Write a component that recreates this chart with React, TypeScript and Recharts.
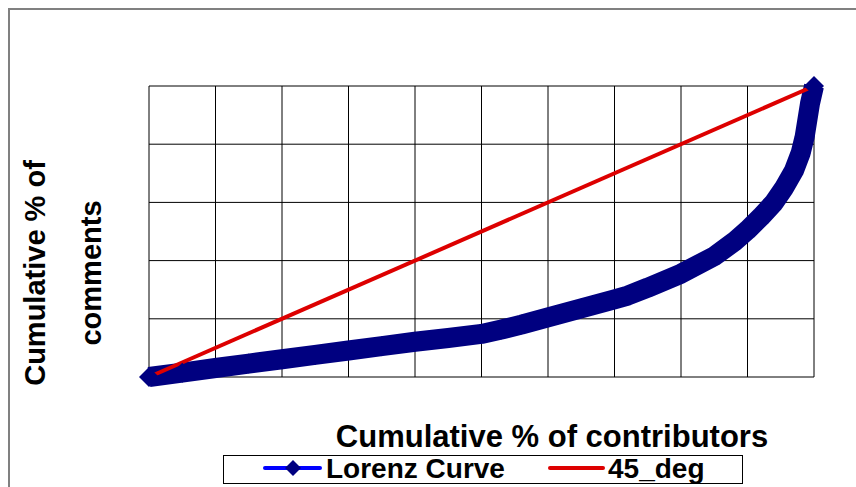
import { LineChart, Line, XAxis, YAxis, CartesianGrid } from "recharts";

// Canvas
const WIDTH = 856;
const HEIGHT = 487;
const FONT = '"Liberation Sans", Arial, sans-serif';

// Axes (no labels shown, only gridlines)
const X_TICKS = [0, 0.1, 0.2, 0.3, 0.4, 0.5, 0.6, 0.7, 0.8, 0.9, 1];
const Y_TICKS = [0, 0.2, 0.4, 0.6, 0.8, 1];

// Lorenz curve (share of contributors -> share of comments)
const LORENZ_X = [
  0, 0.05, 0.1, 0.15, 0.2, 0.25, 0.3, 0.35, 0.4, 0.45, 0.5, 0.53, 0.56, 0.6, 0.65,
  0.7, 0.72, 0.75, 0.8, 0.85, 0.88, 0.9, 0.92, 0.94, 0.955, 0.97, 0.98, 0.986, 0.994, 1,
];
const LORENZ_Y = [
  0, 0.015, 0.031, 0.046, 0.061, 0.076, 0.091, 0.106, 0.121, 0.134, 0.148, 0.163, 0.18, 0.205, 0.236,
  0.267, 0.28, 0.307, 0.355, 0.415, 0.465, 0.505, 0.55, 0.6, 0.65, 0.71, 0.77, 0.826, 0.94, 1,
];

// Line of equality
const DIAGONAL_X = [0, 1];
const DIAGONAL_Y = [0, 1];

const SERIES_NAMES = ["Lorenz Curve", "45_deg"];
const X_TITLE = "Cumulative % of contributors";
const Y_TITLE_LINES = ["Cumulative % of", "comments"];

const COLORS = {
  marker: "#000080",
  lorenzLine: "#0000ff",
  diagonal: "#dd0000",
  grid: "#000000",
  frame: "#808080",
} as const;

const lorenzData = LORENZ_X.map((x, i) => ({ x, y: LORENZ_Y[i] }));
const diagonalData = DIAGONAL_X.map((x, i) => ({ x, y: DIAGONAL_Y[i] }));

const MARKER_HALF = 10;

function Diamond(props: any) {
  const { cx, cy, index } = props;
  if (cx == null || cy == null) return <g key={`d-${index}`} />;
  const h = MARKER_HALF;
  return (
    <path
      key={`d-${index}`}
      d={`M${cx},${cy - h}L${cx + h},${cy}L${cx},${cy + h}L${cx - h},${cy}Z`}
      fill={COLORS.marker}
    />
  );
}

// gridlines at the tick values, mapped through the axis scale when available
function gridX({ xAxis, offset }: any) {
  return X_TICKS.map((t) =>
    xAxis && typeof xAxis.scale === "function" ? xAxis.scale(t) : offset.left + t * offset.width
  );
}
function gridY({ yAxis, offset }: any) {
  return Y_TICKS.map((t) =>
    yAxis && typeof yAxis.scale === "function" ? yAxis.scale(t) : offset.top + (1 - t) * offset.height
  );
}

function Titles() {
  return (
    <svg
      width={WIDTH}
      height={HEIGHT}
      style={{ position: "absolute", left: 0, top: 0, pointerEvents: "none" }}
    >
      <text x={552} y={447} textAnchor="middle" fontFamily={FONT} fontWeight="bold" fontSize={31} fill="#000">
        {X_TITLE}
      </text>
      <g transform="translate(0,273) rotate(-90)">
        <text x={0} y={45} textAnchor="middle" fontFamily={FONT} fontWeight="bold" fontSize={29} fill="#000">
          {Y_TITLE_LINES[0]}
        </text>
        <text x={0} y={101} textAnchor="middle" fontFamily={FONT} fontWeight="bold" fontSize={29} fill="#000">
          {Y_TITLE_LINES[1]}
        </text>
      </g>

      {/* legend */}
      <rect x={223.5} y={455.5} width={519} height={28} fill="#fff" stroke="#000" strokeWidth={1} />
      <line x1={265} y1={468} x2={320} y2={468} stroke={COLORS.lorenzLine} strokeWidth={4} strokeLinecap="round" />
      <path d="M293,460L301,468L293,476L285,468Z" fill={COLORS.marker} />
      <text x={326} y={478} fontFamily={FONT} fontWeight="bold" fontSize={28} fill="#000">
        {SERIES_NAMES[0]}
      </text>
      <line x1={550} y1={468} x2={603} y2={468} stroke={COLORS.diagonal} strokeWidth={4} strokeLinecap="round" />
      <text x={608} y={478} fontFamily={FONT} fontWeight="bold" fontSize={28} fill="#000">
        {SERIES_NAMES[1]}
      </text>
    </svg>
  );
}

export default function App() {
  return (
    <div
      style={{
        position: "fixed",
        left: 0,
        top: 0,
        width: WIDTH,
        height: HEIGHT,
        overflow: "hidden",
        background: "#fff",
      }}
    >
      <div
        style={{
          position: "absolute",
          left: 8,
          top: 8,
          width: 1200,
          height: 800,
          border: `2px solid ${COLORS.frame}`,
        }}
      />
      <div style={{ position: "absolute", left: 0, top: 0 }}>
        <LineChart
          width={WIDTH}
          height={HEIGHT}
          margin={{ top: 86, left: 149, right: 42, bottom: 110 }}
        >
          <CartesianGrid
            stroke={COLORS.grid}
            strokeWidth={1}
            verticalCoordinatesGenerator={gridX}
            horizontalCoordinatesGenerator={gridY}
          />
          <XAxis
            type="number"
            dataKey="x"
            domain={[0, 1]}
            ticks={X_TICKS}
            tick={false}
            tickLine={false}
            axisLine={false}
            height={0}
          />
          <YAxis
            type="number"
            dataKey="y"
            domain={[0, 1]}
            ticks={Y_TICKS}
            tick={false}
            tickLine={false}
            axisLine={false}
            width={0}
          />
          <Line
            data={lorenzData}
            dataKey="y"
            name={SERIES_NAMES[0]}
            stroke={COLORS.marker}
            strokeWidth={20}
            strokeLinejoin="round"
            dot={Diamond}
            activeDot={false}
            isAnimationActive={false}
          />
          <Line
            data={diagonalData}
            dataKey="y"
            name={SERIES_NAMES[1]}
            stroke={COLORS.diagonal}
            strokeWidth={4}
            dot={false}
            activeDot={false}
            isAnimationActive={false}
          />
        </LineChart>
      </div>
      <Titles />
    </div>
  );
}
